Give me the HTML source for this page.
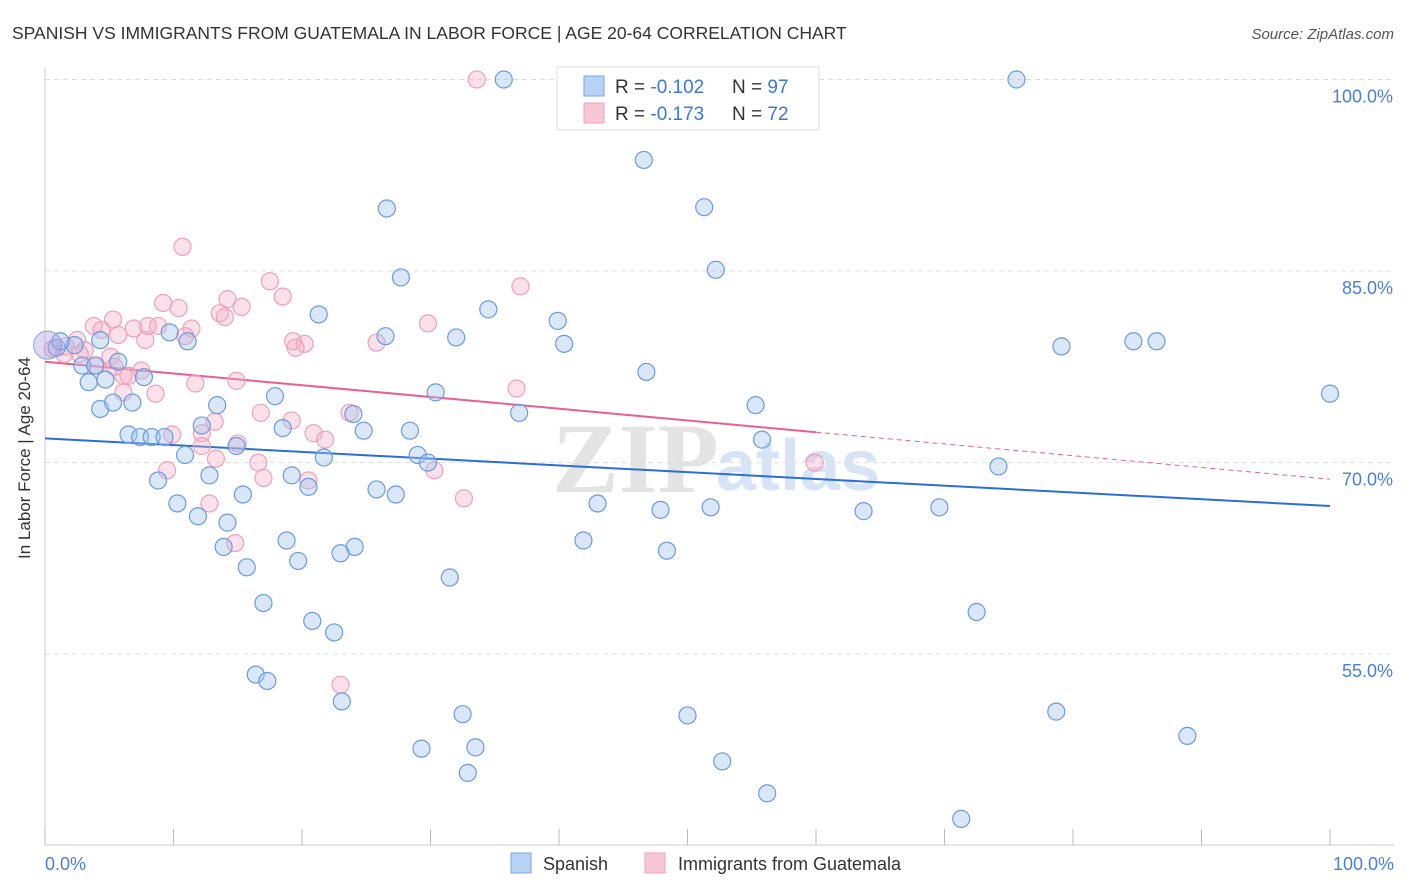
<!DOCTYPE html>
<html><head><meta charset="utf-8">
<style>
body{margin:0;background:#fff;font-family:"Liberation Sans",sans-serif;}
svg{display:block}
</style></head>
<body>
<svg id="chart" width="1406" height="892" xmlns="http://www.w3.org/2000/svg">
<text x="12" y="39" font-size="17.5" fill="#333">SPANISH VS IMMIGRANTS FROM GUATEMALA IN LABOR FORCE | AGE 20-64 CORRELATION CHART</text>
<text x="1394" y="39" font-size="15" fill="#555" font-style="italic" text-anchor="end">Source: ZipAtlas.com</text>
<g>
<text x="552" y="492" font-size="100" font-family="Liberation Serif,serif" fill="#e4e4e4" font-weight="bold">ZIP</text>
<text x="716" y="490" font-size="72" fill="#d6e4f5" font-weight="bold">atlas</text>
</g>
<g id="grid"></g>
<g id="axes"></g>
<g id="lines"></g>
<g id="pts"></g>
<text x="30" y="458" font-size="17" fill="#333" text-anchor="middle" transform="rotate(-90 30 458)">In Labor Force | Age 20-64</text>
<text x="45" y="870" font-size="18" fill="#4a7fd6">0.0%</text>
<text x="1394" y="870" font-size="18" fill="#4a7fd6" text-anchor="end">100.0%</text>
<g>
<rect x="557" y="67" width="262" height="63" fill="#fff" stroke="#ddd"/>
<rect x="584" y="76" width="20" height="20" fill="#b8d2f5" stroke="#7aa5e3"/>
<rect x="584" y="103" width="20" height="20" fill="#f8c6d5" stroke="#eea0b8"/>
<text x="615" y="93" font-size="19" fill="#333">R = <tspan fill="#3a78d8">-0.102</tspan><tspan x="732">N = </tspan><tspan fill="#3a78d8">97</tspan></text>
<text x="615" y="120" font-size="19" fill="#333">R = <tspan fill="#3a78d8">-0.173</tspan><tspan x="732">N = </tspan><tspan fill="#3a78d8">72</tspan></text>
</g>
<g>
<rect x="511" y="853" width="20" height="20" fill="#b8d2f5" stroke="#7aa5e3"/>
<text x="543" y="870" font-size="18" fill="#333">Spanish</text>
<rect x="645" y="853" width="20" height="20" fill="#f8c6d5" stroke="#eea0b8"/>
<text x="678" y="870" font-size="18" fill="#333">Immigrants from Guatemala</text>
</g>
</svg>
<script>
const yTicks=[100,85,70,55];
const yTickLabels=["100.0%","85.0%","70.0%","55.0%"];
const xTicks=[0,10,20,30,40,50,60,70,80,90,100];
const blueX=[35.7,75.6,46.6,26.6,51.3,52.2,27.7,21.3,34.5,39.9,9.7,11.1,26.5,32.0,40.4,79.1,84.7,86.5,46.8,2.3,4.3,5.7,2.9,3.9,4.7,7.7,3.4,17.9,30.4,13.4,4.3,5.3,6.8,36.9,55.3,24.0,100.0,12.2,18.5,24.8,28.4,6.5,7.4,8.3,9.3,14.9,55.8,10.9,29.0,29.8,21.7,74.2,8.8,12.8,19.2,20.5,25.8,27.3,15.4,10.3,43.0,47.9,51.8,63.7,69.6,11.9,14.2,18.8,41.9,13.9,24.1,23.0,48.4,15.7,19.7,31.5,17.0,72.5,20.8,22.5,16.4,17.3,23.1,32.5,50.0,78.7,88.9,29.3,33.5,52.7,32.9,56.2,71.3,0.9,1.2,45.3];
const blueY=[100.0,100.0,93.7,89.9,90.0,85.1,84.5,81.6,82.0,81.1,80.2,79.5,79.9,79.8,79.3,79.1,79.5,79.5,77.1,79.2,79.6,77.9,77.6,77.6,76.5,76.7,76.3,75.2,75.5,74.5,74.2,74.7,74.7,73.9,74.5,73.8,75.4,72.9,72.7,72.5,72.5,72.2,72.0,72.0,72.0,71.3,71.8,70.6,70.6,70.0,70.4,69.7,68.6,69.0,69.0,68.1,67.9,67.5,67.5,66.8,66.8,66.3,66.5,66.2,66.5,65.8,65.3,63.9,63.9,63.4,63.4,62.9,63.1,61.8,62.3,61.0,59.0,58.3,57.6,56.7,53.4,52.9,51.3,50.3,50.2,50.5,48.6,47.6,47.7,46.6,45.7,44.1,42.1,79.0,79.5,100.0];
const pinkX=[33.6,10.7,17.5,37.0,18.5,9.2,10.4,14.2,15.3,13.6,14.0,5.3,3.8,4.4,6.9,8.0,8.8,11.4,5.7,7.8,10.9,29.8,19.3,20.2,19.5,25.8,2.5,1.6,0.6,3.1,1.5,2.7,5.1,4.0,5.4,7.5,6.1,6.5,14.9,11.7,36.7,8.6,6.1,16.8,19.2,13.2,23.7,12.2,9.9,20.9,21.8,15.0,12.2,13.3,16.6,9.5,30.3,20.5,17.0,12.8,32.6,59.9,14.8,23.0];
const pinkY=[100.0,86.9,84.2,83.8,83.0,82.5,82.1,82.8,82.2,81.7,81.4,81.2,80.7,80.4,80.5,80.7,80.7,80.5,80.0,79.6,79.9,80.9,79.5,79.3,79.0,79.4,79.6,79.1,78.9,78.8,78.5,78.5,78.3,77.6,77.5,77.2,76.8,76.8,76.4,76.2,75.8,75.4,75.5,73.9,73.3,73.2,73.9,72.3,72.2,72.3,71.8,71.5,71.3,70.3,70.0,69.4,69.4,68.6,68.8,66.8,67.2,70.0,63.7,52.6];
const blueTrend=[71.9,66.6];
const pinkTrend=[77.9,68.7];
const pinkSolidEnd=60;

const NS="http://www.w3.org/2000/svg";
const X=v=>45+v*12.85;
const Y=v=>79.5+(100-v)*12.77;
function mk(t,a,p){const e=document.createElementNS(NS,t);for(const k in a)e.setAttribute(k,a[k]);p.appendChild(e);return e;}
const grid=document.getElementById('grid');
yTicks.forEach((t,i)=>{
  const l=mk('line',{x1:45,x2:1394,y1:Y(t),y2:Y(t),stroke:'#ddd','stroke-dasharray':'5,4'},grid);
  
  
  const tx=mk('text',{x:1393,y:Y(t)+23,'font-size':18,fill:'#4a7fd6','text-anchor':'end'},grid);
  tx.textContent=yTickLabels[i];
  
  
});
const axes=document.getElementById('axes');
const ya=mk('line',{x1:45,x2:45,y1:68,y2:845,stroke:'#ccc'},axes);


const xa=mk('line',{x1:45,x2:1394,y1:845,y2:845,stroke:'#ccc'},axes);


xTicks.forEach(t=>{
  const l=mk('line',{x1:X(t),x2:X(t),y1:829,y2:845,stroke:'#bbb'},axes);
  
  
});
const pts=document.getElementById('pts');
function dots(xs,ys,fill,stroke,name){
  xs.forEach((x,i)=>{
    const c=mk('circle',{cx:X(x),cy:Y(ys[i]),r:8.5,fill:fill,stroke:stroke,'stroke-width':1.2},pts);
    
    
  });
}
dots(pinkX,pinkY,'rgba(245,170,195,0.35)','#eea0b8','guatemala-point');
dots(blueX,blueY,'rgba(160,195,240,0.4)','#6a9be0','spanish-point');
const big=mk('circle',{cx:X(0.2),cy:Y(79.2),r:14,fill:'rgba(170,160,220,0.4)',stroke:'#8aa0e0'},pts);


const lines=document.getElementById('lines');
const bl=mk('line',{x1:X(0),y1:Y(blueTrend[0]),x2:X(100),y2:Y(blueTrend[1]),stroke:'#2a6fd6','stroke-width':2},lines);


const pm=pinkTrend[0]+(pinkTrend[1]-pinkTrend[0])*pinkSolidEnd/100;
const pl=mk('line',{x1:X(0),y1:Y(pinkTrend[0]),x2:X(pinkSolidEnd),y2:Y(pm),stroke:'#e8608f','stroke-width':2},lines);


const pd=mk('line',{x1:X(pinkSolidEnd),y1:Y(pm),x2:X(100),y2:Y(pinkTrend[1]),stroke:'#e8608f','stroke-width':1,'stroke-dasharray':'5,4'},lines);


</script>
</body></html>
